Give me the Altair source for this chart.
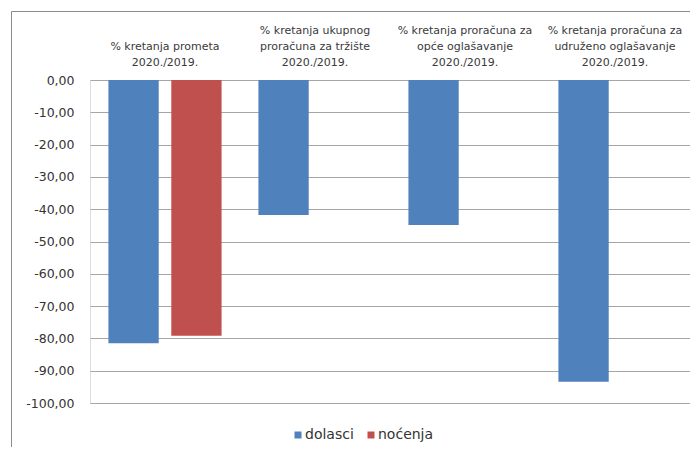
import altair as alt
import pandas as pd

categories = [
    "|% kretanja prometa|2020./2019.",
    "% kretanja ukupnog|proračuna za tržište|2020./2019.",
    "% kretanja proračuna za|opće oglašavanje|2020./2019.",
    "% kretanja proračuna za|udruženo oglašavanje|2020./2019.",
]
series = ["dolasci", "noćenja"]
dolasci = [-81.5, -41.8, -44.9, -93.4]
nocenja = [-79.2, None, None, None]
y_ticks = [0, -10, -20, -30, -40, -50, -60, -70, -80, -90, -100]
colors = ["#4F81BD", "#C0504D"]

rows = []
for c, d, n in zip(categories, dolasci, nocenja):
    if d is not None:
        rows.append({"kategorija": c, "serija": series[0], "vrijednost": d})
    if n is not None:
        rows.append({"kategorija": c, "serija": series[1], "vrijednost": n})
df = pd.DataFrame(rows)

FONT = "DejaVu Sans"

bars = alt.Chart(df).mark_bar().encode(
    x=alt.X(
        "kategorija:N",
        sort=categories,
        scale=alt.Scale(domain=categories, paddingInner=0, paddingOuter=0),
        axis=alt.Axis(
            orient="top",
            title=None,
            domain=False,
            ticks=False,
            labelAngle=0,
            labelExpr="split(datum.label, '|')",
            labelFont=FONT,
            labelFontSize=11,
            labelLineHeight=16,
            labelColor="#3A3A3A",
            labelPadding=45,
            labelBaseline="bottom",
        ),
    ),
    xOffset=alt.XOffset(
        "serija:N",
        scale=alt.Scale(domain=series, paddingInner=0.2, paddingOuter=0.293),
    ),
    y=alt.Y(
        "vrijednost:Q",
        scale=alt.Scale(domain=[-100, 0], nice=False),
        axis=alt.Axis(
            title=None,
            values=y_ticks,
            domain=False,
            ticks=False,
            tickSize=0,
            labelPadding=16,
            labelFont=FONT,
            labelFontSize=12.5,
            labelColor="#333333",
            labelExpr="replace((datum.value < 0 ? '-' : '') + format(abs(datum.value), '.2f'), '.', ',')",
            grid=True,
            gridColor="#A6A6A6",
            gridWidth=1,
        ),
    ),
    color=alt.Color(
        "serija:N",
        scale=alt.Scale(domain=series, range=colors),
        legend=alt.Legend(
            title=None,
            orient="none",
            direction="horizontal",
            legendX=201,
            legendY=348,
            symbolType="square",
            symbolSize=49,
            symbolStrokeWidth=0,
            labelFont=FONT,
            labelFontSize=14,
            labelColor="#333333",
            labelOffset=0,
            columnPadding=10,
            padding=0,
        ),
    ),
)

frame = alt.Chart(pd.DataFrame({"a": [0]})).mark_rect(
    fillOpacity=0, stroke="#8C8C8C", strokeWidth=1
).encode(
    x=alt.value(-78.5), x2=alt.value(700), y=alt.value(-68.5), y2=alt.value(500)
)

chart = alt.layer(frame, bars).properties(
    width=600,
    height=323,
    autosize=alt.AutoSizeParams(type="none"),
    padding={"left": 82, "top": 72, "right": 0, "bottom": 44},
).configure_view(stroke=None).configure(background="white")

chart.save("out.html", embed_options={"renderer": "svg", "actions": False})
